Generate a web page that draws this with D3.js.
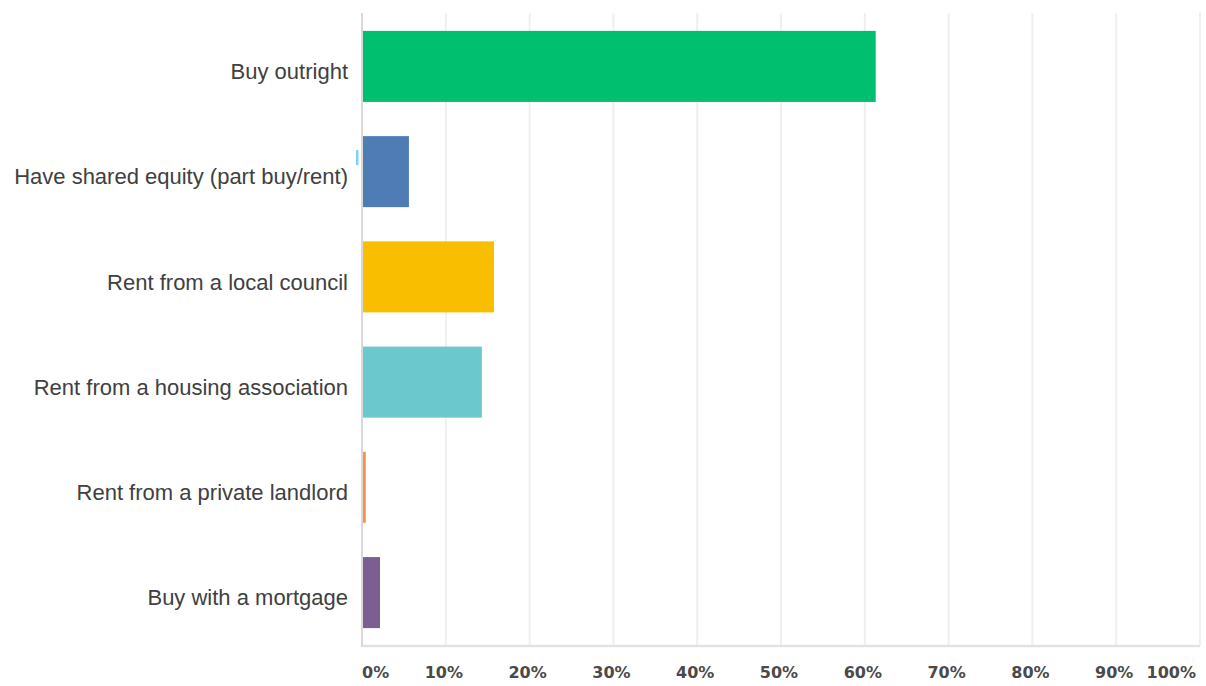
<!DOCTYPE html>
<html>
<head>
<meta charset="utf-8">
<script src="https://cdn.jsdelivr.net/npm/d3@7"></script>
<style>
  html, body { margin: 0; padding: 0; background: #fff; }
  svg { display: block; }
</style>
</head>
<body>
<svg id="chart" width="1206" height="686"></svg>
<script>
// Survey answers: housing tenure preference (percent of respondents)
const categories = [
  "Buy outright",
  "Have shared equity (part buy/rent)",
  "Rent from a local council",
  "Rent from a housing association",
  "Rent from a private landlord",
  "Buy with a mortgage"
];
const percentages = [61.3, 5.6, 15.75, 14.3, 0.45, 2.15];
const barColors = ["#00bf6f", "#507cb6", "#f9be00", "#6bc8cd", "#ff8b4f", "#7d5e90"];
const tickValues = [0, 10, 20, 30, 40, 50, 60, 70, 80, 90, 100];
const tickLabels = ["0%", "10%", "20%", "30%", "40%", "50%", "60%", "70%", "80%", "90%", "100%"];

const svg = d3.select("#chart");

const x = d3.scaleLinear().domain([0, 100]).range([362, 1200]);
const y = d3.scaleBand()
  .domain(categories)
  .range([13, 646])
  .paddingInner(0.325)
  .paddingOuter(0.17);

// vertical gridlines
svg.append("g")
  .selectAll("line")
  .data(tickValues.slice(1))
  .join("line")
  .attr("x1", d => x(d)).attr("x2", d => x(d))
  .attr("y1", 13).attr("y2", 646)
  .attr("stroke", "#efefef")
  .attr("stroke-width", 2);

// bottom axis line
svg.append("line")
  .attr("x1", x(0)).attr("x2", x(100))
  .attr("y1", 646).attr("y2", 646)
  .attr("stroke", "#e2e2e2")
  .attr("stroke-width", 2.5);

// zero line
svg.append("line")
  .attr("x1", x(0)).attr("x2", x(0))
  .attr("y1", 13).attr("y2", 647)
  .attr("stroke", "#d9d9d9")
  .attr("stroke-width", 2);

// bars
svg.append("g")
  .selectAll("rect")
  .data(categories)
  .join("rect")
  .attr("x", x(0) + 1)
  .attr("y", d => y(d))
  .attr("width", (d, i) => Math.max(0, x(percentages[i]) - x(0) - 1))
  .attr("height", y.bandwidth())
  .attr("fill", (d, i) => barColors[i]);

// small marker left of the shared-equity bar
svg.append("rect")
  .attr("x", x(0) - 6)
  .attr("y", y(categories[1]) + 14)
  .attr("width", 2.5)
  .attr("height", 15)
  .attr("fill", "#7fd0f2");

// category labels
svg.append("g")
  .selectAll("text")
  .data(categories)
  .join("text")
  .attr("x", 348)
  .attr("y", d => y(d) + y.bandwidth() / 2 + 5)
  .attr("dy", "0.35em")
  .attr("text-anchor", "end")
  .attr("font-family", "'Liberation Sans', Arial, sans-serif")
  .attr("font-size", 22)
  .attr("fill", "#404040")
  .text(d => d);

// percentage tick labels (end labels kept inside the plot width)
svg.append("g")
  .selectAll("text")
  .data(tickValues)
  .join("text")
  .attr("x", (d, i) => i === 0 ? x(d) : (i === tickValues.length - 1 ? 1196 : x(d) - 2))
  .attr("y", 678)
  .attr("text-anchor", (d, i) => i === 0 ? "start" : (i === tickValues.length - 1 ? "end" : "middle"))
  .attr("font-family", "'DejaVu Sans', sans-serif")
  .attr("font-weight", "bold")
  .attr("font-size", 16)
  .attr("fill", "#4a4a4a")
  .text((d, i) => tickLabels[i]);
</script>
</body>
</html>
